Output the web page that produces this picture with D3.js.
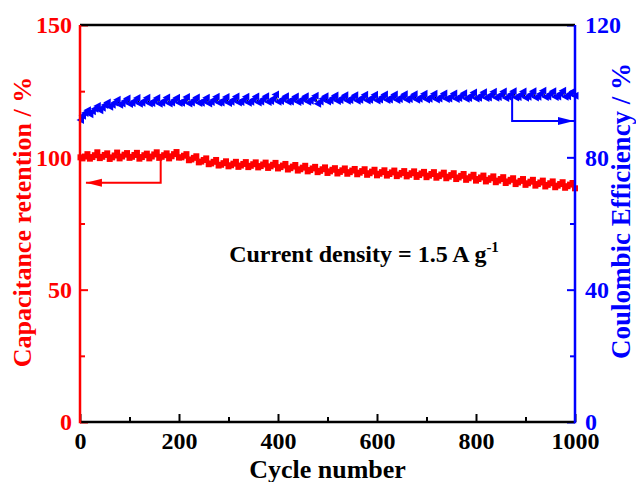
<!DOCTYPE html>
<html>
<head>
<meta charset="utf-8">
<script src="https://cdn.jsdelivr.net/npm/d3@7"></script>
<style>
  body { margin: 0; background: #fff; }
  text { font-family: "Liberation Serif", "Times New Roman", serif; font-weight: bold; }
</style>
</head>
<body>
<svg id="chart" width="636" height="482"></svg>
<script>
// cycle numbers, one point every 5 cycles (first point is cycle 1)
var cycles = d3.range(0, 1001, 5).map(function(c) { return c === 0 ? 1 : c; });

// capacitance retention (%)
var retention = [
  100.0,
  99.6, 100.3, 101.2, 99.5,   100.1, 100.8, 101.9, 99.7,   100.2, 100.9, 101.5, 99.4,
  100.0, 100.7, 101.8, 99.6,  100.3, 101.0, 101.6, 99.8,   100.2, 100.9, 101.7, 99.5,
  100.1, 100.8, 101.4, 99.6,  100.3, 101.1, 101.9, 99.8,   100.2, 100.8, 101.5, 99.6,
  100.4, 101.2, 102.0, 99.9,  100.0, 100.6, 101.2, 98.9,   99.2, 99.8, 100.4, 98.1,
  98.4, 99.0, 99.6, 97.4,     97.7, 98.3, 99.0, 96.9,      97.2, 97.8, 98.5, 96.6,
  97.0, 97.6, 98.3, 96.4,     96.9, 97.5, 98.2, 96.3,      96.8, 97.4, 98.1, 96.2,
  96.7, 97.3, 98.0, 96.0,     96.6, 97.2, 97.9, 95.8,      96.3, 96.9, 97.5, 95.4,
  95.9, 96.5, 97.1, 95.0,     95.5, 96.1, 96.8, 94.7,      95.2, 95.8, 96.4, 94.4,
  94.9, 95.5, 96.2, 94.1,     94.7, 95.3, 95.9, 93.9,      94.5, 95.1, 95.8, 93.8,
  94.4, 95.0, 95.6, 93.6,     94.2, 94.8, 95.5, 93.4,      94.0, 94.6, 95.3, 93.2,
  93.8, 94.4, 95.1, 93.1,     93.7, 94.3, 95.0, 92.9,      93.5, 94.1, 94.8, 92.8,
  93.4, 94.0, 94.7, 92.6,     93.3, 93.9, 94.5, 92.5,      93.1, 93.7, 94.4, 92.3,
  92.9, 93.5, 94.2, 92.1,     92.7, 93.3, 94.0, 91.8,      92.4, 93.0, 93.7, 91.5,
  92.1, 92.7, 93.4, 91.2,     91.8, 92.4, 93.1, 90.9,      91.5, 92.1, 92.8, 90.6,
  91.2, 91.8, 92.5, 90.3,     90.9, 91.5, 92.1, 89.9,      90.5, 91.1, 91.8, 89.6,
  90.2, 90.8, 91.5, 89.3,     89.9, 90.5, 91.2, 89.0,      89.6, 90.2, 90.9, 88.7,
  89.3, 89.9, 90.6, 88.5,     89.1, 89.7, 90.3, 88.3
];

// coulombic efficiency (%)
var efficiency = [
  91.3,
  92.6, 93.4, 94.2, 93.0,   93.9, 94.7, 95.5, 94.2,   95.0, 95.8, 96.6, 95.3,
  95.9, 96.6, 97.4, 95.9,   96.3, 97.0, 97.8, 96.1,   96.4, 97.1, 97.9, 96.2,
  96.5, 97.2, 98.0, 96.3,   96.4, 97.1, 97.9, 96.2,   96.5, 97.2, 98.1, 96.3,
  96.6, 97.3, 98.0, 96.4,   96.5, 97.2, 98.2, 96.3,   96.6, 97.3, 98.1, 96.4,
  96.5, 97.2, 98.0, 96.3,   96.7, 97.4, 98.3, 96.5,   96.6, 97.3, 98.2, 96.4,
  96.8, 97.5, 98.4, 96.6,   96.7, 97.4, 98.3, 96.5,   96.8, 97.5, 98.4, 96.6,
  96.9, 97.6, 98.5, 96.7,   97.0, 97.8, 99.0, 96.8,   97.0, 97.7, 98.5, 96.8,
  96.9, 97.6, 98.4, 96.7,   97.0, 97.7, 98.5, 96.8,   97.1, 97.8, 98.6, 96.2,
  96.9, 97.7, 98.5, 96.9,   97.2, 97.9, 98.7, 97.0,   97.3, 98.0, 98.8, 97.1,
  97.3, 98.0, 98.8, 97.1,   97.4, 98.1, 98.9, 97.2,   97.4, 98.1, 98.9, 97.2,
  97.5, 98.2, 99.0, 97.3,   97.5, 98.2, 99.0, 97.3,   97.6, 98.3, 99.1, 97.4,
  97.6, 98.3, 99.1, 97.4,   97.7, 98.4, 99.2, 97.5,   97.7, 98.4, 99.2, 97.5,
  97.8, 98.5, 99.3, 97.6,   97.8, 98.5, 99.3, 97.6,   97.9, 98.6, 99.4, 97.7,
  97.9, 98.7, 99.6, 97.8,   98.0, 98.8, 99.7, 97.9,   98.1, 98.9, 99.8, 98.0,
  98.2, 99.0, 99.9, 97.9,   98.3, 99.1, 100.0, 98.1,  98.2, 99.0, 99.9, 98.0,
  98.3, 99.1, 100.0, 98.1,  98.3, 99.2, 100.1, 98.2,  98.4, 99.2, 100.0, 98.2,
  98.4, 99.3, 100.1, 98.3,  98.5, 99.3, 99.9, 98.6
];

var xTicks = [0, 200, 400, 600, 800, 1000];
var xMinor = [100, 300, 500, 700, 900];
var leftTicks = [0, 50, 100, 150];
var leftMinor = [25, 75, 125];
var rightTicks = [0, 40, 80, 120];
var rightMinor = [20, 60, 100];

var red = "#ff0000", blue = "#0000ff";
var plotL = 80, plotR = 575, plotT = 25, plotB = 422;

var svg = d3.select("#chart");

var x = d3.scaleLinear().domain([0, 1000]).range([plotL, plotR]);
var yL = d3.scaleLinear().domain([0, 150]).range([plotB, plotT]);
var yR = d3.scaleLinear().domain([0, 120]).range([plotB, plotT]);

var pts = cycles.map(function(c, i) { return { c: c, r: retention[i], e: efficiency[i] }; });

// retention: red line with small square markers
svg.append("path")
    .datum(pts)
    .attr("fill", "none")
    .attr("stroke", red)
    .attr("stroke-width", 1.5)
    .attr("d", d3.line().x(function(d) { return x(d.c); }).y(function(d) { return yL(d.r); }));

svg.append("g").selectAll("rect")
    .data(pts)
    .enter().append("rect")
    .attr("x", function(d) { return x(d.c) - 3; })
    .attr("y", function(d) { return yL(d.r) - 3; })
    .attr("width", 6)
    .attr("height", 6)
    .attr("fill", red);

// efficiency: black line with blue left-pointing triangles
svg.append("path")
    .datum(pts)
    .attr("fill", "none")
    .attr("stroke", "#000")
    .attr("stroke-width", 1)
    .attr("d", d3.line().x(function(d) { return x(d.c); }).y(function(d) { return yR(d.e); }));

svg.append("g").selectAll("path")
    .data(pts)
    .enter().append("path")
    .attr("transform", function(d) { return "translate(" + x(d.c) + "," + yR(d.e) + ")"; })
    .attr("d", "M-4,0L3.5,-4L3.5,4Z")
    .attr("fill", blue);

// arrows
function arrow(points, color, dir) {
    svg.append("path")
        .attr("d", d3.line()(points))
        .attr("fill", "none")
        .attr("stroke", color)
        .attr("stroke-width", 2);
    var end = points[points.length - 1];
    var head = dir < 0
        ? [[end[0], end[1]], [end[0] + 16, end[1] - 4], [end[0] + 16, end[1] + 4]]
        : [[end[0], end[1]], [end[0] - 16, end[1] - 4], [end[0] - 16, end[1] + 4]];
    svg.append("path").attr("d", d3.line()(head) + "Z").attr("fill", color);
}
arrow([[x(163), yL(99.5)], [x(163), yL(90.4)], [x(12), yL(90.4)]], red, -1);
arrow([[x(873), yR(98.2)], [x(873), yR(91.0)], [x(998), yR(91.0)]], blue, 1);

// axes
function styleAxis(g, color) {
    g.select(".domain").remove();
    g.selectAll("line").attr("stroke", color).attr("stroke-width", 2);
    g.selectAll("text").attr("fill", color).style("font-size", "24px")
        .style("font-family", "'Liberation Serif', serif").style("font-weight", "bold");
}

svg.append("g").attr("transform", "translate(0," + plotB + ")")
    .call(d3.axisBottom(x).tickValues(xTicks).tickFormat(d3.format("d"))
        .tickSizeInner(-8).tickSizeOuter(0).tickPadding(10))
    .call(styleAxis, "#000");
svg.append("g").attr("transform", "translate(0," + plotB + ")")
    .call(d3.axisBottom(x).tickValues(xMinor).tickSizeInner(-5).tickSizeOuter(0).tickFormat(""))
    .call(styleAxis, "#000");

svg.append("g").attr("transform", "translate(" + plotL + ",0)")
    .call(d3.axisLeft(yL).tickValues(leftTicks).tickFormat(d3.format("d"))
        .tickSizeInner(-8).tickSizeOuter(0).tickPadding(8))
    .call(styleAxis, red);
svg.append("g").attr("transform", "translate(" + plotL + ",0)")
    .call(d3.axisLeft(yL).tickValues(leftMinor).tickSizeInner(-5).tickSizeOuter(0).tickFormat(""))
    .call(styleAxis, red);

svg.append("g").attr("transform", "translate(" + plotR + ",0)")
    .call(d3.axisRight(yR).tickValues(rightTicks).tickFormat(d3.format("d"))
        .tickSizeInner(-8).tickSizeOuter(0).tickPadding(10))
    .call(styleAxis, blue);
svg.append("g").attr("transform", "translate(" + plotR + ",0)")
    .call(d3.axisRight(yR).tickValues(rightMinor).tickSizeInner(-5).tickSizeOuter(0).tickFormat(""))
    .call(styleAxis, blue);

// frame lines
svg.append("line").attr("x1", plotL).attr("x2", plotR).attr("y1", plotT).attr("y2", plotT)
    .attr("stroke", "#000").attr("stroke-width", 2.5);
svg.append("line").attr("x1", plotL).attr("x2", plotR).attr("y1", plotB).attr("y2", plotB)
    .attr("stroke", "#000").attr("stroke-width", 2.5);
svg.append("line").attr("x1", plotL).attr("x2", plotL).attr("y1", plotT).attr("y2", plotB + 1.25)
    .attr("stroke", red).attr("stroke-width", 2.5);
svg.append("line").attr("x1", plotR).attr("x2", plotR).attr("y1", plotT).attr("y2", plotB + 1.25)
    .attr("stroke", blue).attr("stroke-width", 2.5);

// titles
svg.append("text")
    .attr("x", (plotL + plotR) / 2).attr("y", 478)
    .attr("text-anchor", "middle").style("font-size", "26px").attr("fill", "#000")
    .text("Cycle number");

svg.append("text")
    .attr("transform", "translate(31,222) rotate(-90)")
    .attr("text-anchor", "middle").style("font-size", "26px").attr("fill", red)
    .text("Capacitance retention / %");

svg.append("text")
    .attr("transform", "translate(630,211) rotate(-90)")
    .attr("text-anchor", "middle").style("font-size", "27px").attr("fill", blue)
    .text("Coulombic Efficiency / %");

var note = svg.append("text")
    .attr("x", 364).attr("y", 262)
    .attr("text-anchor", "middle").style("font-size", "24px").attr("fill", "#000");
note.append("tspan").text("Current density = 1.5 A g");
note.append("tspan").attr("dy", -10).style("font-size", "15px").text("-1");
</script>
</body>
</html>
